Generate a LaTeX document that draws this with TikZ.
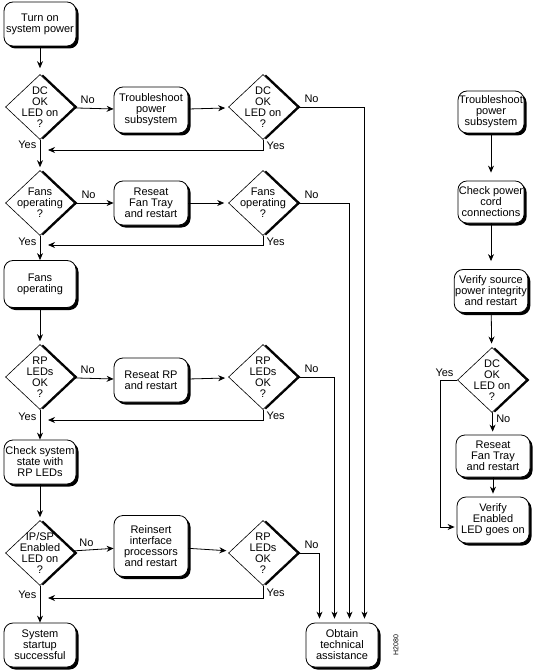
\documentclass[tikz,border=0pt]{standalone}
\usepackage{fontspec}
\setmainfont{Liberation Sans}
\usetikzlibrary{shapes.geometric, shadows, arrows.meta}

\begin{document}
\begin{tikzpicture}[x=1pt, y=-1pt,
    every node/.style={font=\fontsize{11}{11}\selectfont},
    proc/.style={draw, fill=white, rounded corners=9pt, align=center, minimum width=72pt, minimum height=44pt, inner sep=1pt, line width=0.8pt,
        drop shadow={shadow xshift=2.5pt, shadow yshift=-2.5pt, fill=black, opacity=1}},
    decision/.style={diamond, draw, fill=white, minimum width=69pt, minimum height=65pt, inner sep=0pt, line width=0.6pt,
        drop shadow={shadow xshift=3pt, shadow yshift=0pt, fill=black, opacity=1}},
    arr/.style={-{Stealth[length=7pt, width=6pt]}, line width=0.8pt},
    nolab/.style={pos=0, anchor=south west, xshift=3pt, yshift=1pt}]
    \useasboundingbox (0,0) rectangle (535,671);

    \node[proc] (turn) at (40,24) {Turn on\\system power};
    \node[decision, label={[align=center]center:DC\\OK\\LED on\\?}] (dc1) at (40,107) {};
    \node[proc, minimum width=74pt, minimum height=46pt] (trouble) at (151,110) {Troubleshoot\\power\\subsystem};
    \node[decision, label={[align=center]center:DC\\OK\\LED on\\?}] (dc2) at (263,107) {};

    \node[decision, label={[align=center]center:Fans\\operating\\?}] (fan1) at (40,203) {};
    \node[proc, minimum width=74pt] (reseat) at (151,203) {Reseat\\Fan Tray\\and restart};
    \node[decision, label={[align=center]center:Fans\\operating\\?}] (fan2) at (263,203) {};
    \node[proc, minimum height=47pt] (fans) at (40,284) {Fans\\operating};

    \node[decision, label={[align=center]center:RP\\LEDs\\OK\\?}] (rp1) at (40,377) {};
    \node[proc, minimum width=74pt] (reseatrp) at (151,380) {Reseat RP\\and restart};
    \node[decision, label={[align=center]center:RP\\LEDs\\OK\\?}] (rp2) at (263,377) {};
    \node[proc] (check) at (40,462) {Check system\\state with\\RP LEDs};

    \node[decision, label={[align=center]center:IP/SP\\Enabled\\LED on\\?}] (ipsp) at (40,553) {};
    \node[proc, minimum width=74pt, minimum height=61pt] (reinsert) at (151,546) {Reinsert\\interface\\processors\\and restart};
    \node[decision, label={[align=center]center:RP\\LEDs\\OK\\?}] (rp3) at (263,553) {};
    \node[proc] (startup) at (40,645) {System\\startup\\successful};
    \node[proc] (obtain) at (342,645) {Obtain\\technical\\assistance};
    \node[rotate=90, font=\fontsize{7}{7}\selectfont] (code) at (396,645) {H2080};

    \node[proc, minimum width=66pt, minimum height=42pt] (rtrouble) at (491,112) {Troubleshoot\\power\\subsystem};
    \node[proc, minimum width=66pt, minimum height=42pt] (cord) at (491,202) {Check power\\cord\\connections};
    \node[proc, minimum width=66pt, minimum height=43pt] (source) at (491,291) {Verify source\\power integrity\\and restart};
    \node[decision, label={[align=center]center:DC\\OK\\LED on\\?}] (dc4) at (492,380) {};
    \node[proc, minimum width=74pt, minimum height=42pt] (rreseat) at (493,456) {Reseat\\Fan Tray\\and restart};
    \node[proc, minimum width=72pt, minimum height=46pt] (enabled) at (493,520) {Verify\\Enabled\\LED goes on};

    \coordinate (j1) at (40,150);
    \coordinate (j2) at (40,245);
    \coordinate (j3) at (40,420);
    \coordinate (j4) at (40,598);

    \draw[arr, shorten >=6pt] (turn) -- (dc1);
    \draw[arr, shorten >=3pt] (dc1) -- node[pos=.17, left]{Yes} (fan1);
    \draw[arr] (fan1) -- node[pos=.25, left]{Yes} (fans);
    \draw[arr, shorten >=3pt] (fans) -- (rp1);
    \draw[arr] (rp1) -- node[pos=.25, left]{Yes} (check);
    \draw[arr, shorten >=3pt] (check) -- (ipsp);
    \draw[arr] (ipsp) -- node[pos=.25, left]{Yes} (startup);

    \draw[arr] (dc1) -- node[nolab]{No} (trouble);
    \draw[arr, shorten >=4pt] (trouble) -- (dc2);
    \draw[arr] (fan1) -- node[nolab]{No} (reseat);
    \draw[arr, shorten >=4pt] (reseat) -- (fan2);
    \draw[arr] (rp1) -- node[nolab]{No} (reseatrp);
    \draw[arr, shorten >=4pt] (reseatrp) -- (rp2);
    \draw[arr] (ipsp) -- node[nolab]{No} (reinsert);
    \draw[arr, shorten >=4pt] (reinsert) -- (rp3);

    \draw[arr, shorten >=8pt] (dc2.south) |- node[pos=.3, right]{Yes} (j1);
    \draw[arr, shorten >=8pt] (fan2.south) |- node[pos=.3, right]{Yes} (j2);
    \draw[arr, shorten >=8pt] (rp2.south) |- node[pos=.3, right]{Yes} (j3);
    \draw[arr, shorten >=8pt] (rp3.south) |- node[pos=.3, right]{Yes} (j4);

    \draw[arr, shorten >=4pt] (dc2.east) -| node[nolab]{No} ([xshift=22.5pt]obtain.north);
    \draw[arr, shorten >=4pt] (fan2.east) -| node[nolab]{No} ([xshift=7.5pt]obtain.north);
    \draw[arr, shorten >=4pt] (rp2.east) -| node[nolab]{No} ([xshift=-7.5pt]obtain.north);
    \draw[arr, shorten >=4pt] (rp3.east) -| node[nolab]{No} ([xshift=-22.5pt]obtain.north);

    \draw[arr, shorten >=8pt] (rtrouble) -- (cord);
    \draw[arr, shorten >=8pt] (cord) -- (source);
    \draw[arr, shorten >=4pt] (source) -- (dc4);
    \draw[arr, shorten >=3pt] (dc4) -- node[pos=.3, right]{No} (rreseat);
    \draw[arr, shorten >=3pt] (rreseat) -- (enabled);
    \draw[arr, shorten >=2pt] (dc4.west) -- node[pos=0, anchor=south east]{Yes} ++(-17,0) |- ([yshift=-7pt]enabled.west);
\end{tikzpicture}
\end{document}
